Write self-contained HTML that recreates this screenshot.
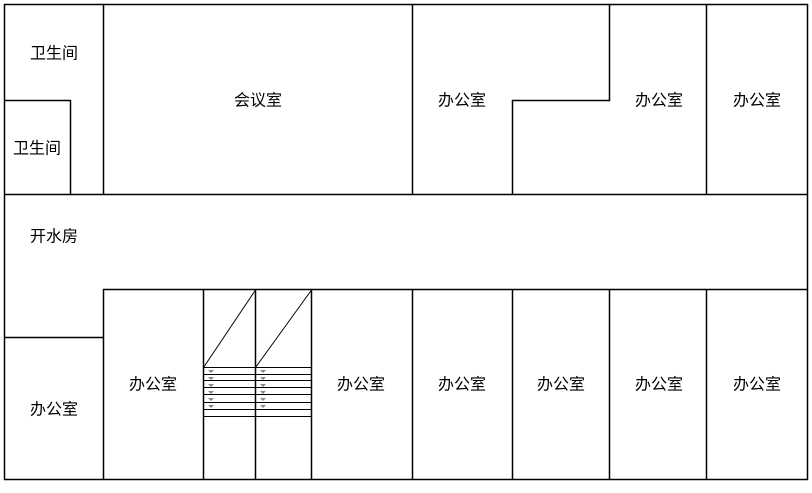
<!DOCTYPE html>
<html><head><meta charset="utf-8"><style>
html,body{margin:0;padding:0;background:#fff;}
svg{display:block;}
text{font-family:"Liberation Sans","Noto Sans CJK SC","WenQuanYi Zen Hei",sans-serif;font-size:16px;fill:#000;text-anchor:middle;dominant-baseline:central;}
</style></head><body>
<svg width="812" height="493" viewBox="0 0 812 493" xmlns="http://www.w3.org/2000/svg">
<g stroke="#000" stroke-width="1.5" fill="none">
<rect x="4.5" y="4.5" width="803" height="475"/>
<line x1="103.5" y1="4" x2="103.5" y2="194"/>
<line x1="4" y1="100.5" x2="70.5" y2="100.5"/>
<line x1="70.5" y1="100" x2="70.5" y2="194"/>
<line x1="412.5" y1="4" x2="412.5" y2="194"/>
<polyline points="512.5,194 512.5,100.5 609.5,100.5 609.5,4"/>
<line x1="706.5" y1="4" x2="706.5" y2="194"/>
<line x1="4" y1="194.5" x2="808" y2="194.5"/>
<line x1="103" y1="289.5" x2="808" y2="289.5"/>
<line x1="4" y1="337.5" x2="103.5" y2="337.5"/>
<line x1="103.5" y1="289" x2="103.5" y2="480"/>
<line x1="203.5" y1="289" x2="203.5" y2="480"/>
<line x1="255.5" y1="289" x2="255.5" y2="480"/>
<line x1="311.5" y1="289" x2="311.5" y2="480"/>
<line x1="412.5" y1="289" x2="412.5" y2="480"/>
<line x1="512.5" y1="289" x2="512.5" y2="480"/>
<line x1="609.5" y1="289" x2="609.5" y2="480"/>
<line x1="706.5" y1="289" x2="706.5" y2="480"/>
</g>
<g stroke="#000" stroke-width="1" fill="none">
<line x1="203.5" y1="367.5" x2="255.5" y2="290"/>
<line x1="255.5" y1="367.5" x2="311.5" y2="290"/>
<line x1="203" y1="367.5" x2="311" y2="367.5"/>
<line x1="203" y1="374.5" x2="311" y2="374.5"/>
<line x1="203" y1="380.5" x2="311" y2="380.5"/>
<line x1="203" y1="387.5" x2="311" y2="387.5"/>
<line x1="203" y1="394.5" x2="311" y2="394.5"/>
<line x1="203" y1="402.5" x2="311" y2="402.5"/>
<line x1="203" y1="409.5" x2="311" y2="409.5"/>
<line x1="203" y1="416.5" x2="311" y2="416.5"/>
</g>
<g fill="#888">
<path d="M208,370 h6 l-3,3z M208,377 h6 l-3,3z M208,384 h6 l-3,3z M208,391 h6 l-3,3z M208,398 h6 l-3,3z M208,405 h6 l-3,3z"/>
<path d="M260,370 h6 l-3,3z M260,377 h6 l-3,3z M260,384 h6 l-3,3z M260,391 h6 l-3,3z M260,398 h6 l-3,3z M260,405 h6 l-3,3z"/>
</g>
<text x="54" y="54">卫生间</text>
<text x="37" y="149">卫生间</text>
<text x="258" y="101">会议室</text>
<text x="462" y="101">办公室</text>
<text x="659" y="101">办公室</text>
<text x="757" y="101">办公室</text>
<text x="54" y="237">开水房</text>
<text x="54" y="410">办公室</text>
<text x="153" y="385">办公室</text>
<text x="361" y="385">办公室</text>
<text x="462" y="385">办公室</text>
<text x="561" y="385">办公室</text>
<text x="659" y="385">办公室</text>
<text x="757" y="385">办公室</text>
</svg>
</body></html>
